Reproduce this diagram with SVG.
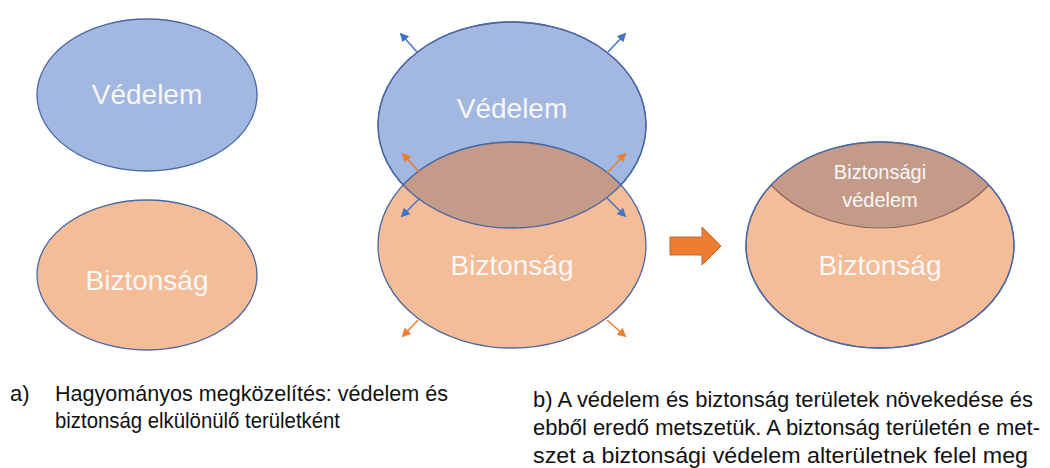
<svg xmlns="http://www.w3.org/2000/svg" width="1050" height="468" viewBox="0 0 1050 468">
<style>
.blue{fill:#A2B8E0;stroke:#4A67A3;stroke-width:1.3}
.orange{fill:#F5BD97;stroke:#4A67A3;stroke-width:1.3}
.lens{fill:#C49B88}
.lab{font-family:"Liberation Sans",Arial,sans-serif;fill:#F7F7F7;text-anchor:middle}
.big{font-size:28px}
.small{font-size:20px}
.cap{font-family:"Liberation Sans",Arial,sans-serif;font-size:22px;fill:#111111}
.ab{stroke:#4472C4;stroke-width:1.5;fill:none;marker-end:url(#mb)}
.ao{stroke:#ED7D31;stroke-width:1.5;fill:none;marker-end:url(#mo)}
</style>
<defs>
<marker id="mb" viewBox="0 0 10 10" refX="8" refY="5" markerWidth="6" markerHeight="6" orient="auto" markerUnits="strokeWidth"><path d="M0,0 L10,5 L0,10 z" fill="#4472C4"/></marker>
<marker id="mo" viewBox="0 0 10 10" refX="8" refY="5" markerWidth="6" markerHeight="6" orient="auto" markerUnits="strokeWidth"><path d="M0,0 L10,5 L0,10 z" fill="#ED7D31"/></marker>
</defs>
<rect width="1050" height="468" fill="#FFFFFF"/>

<g id="a-vedelem">
<ellipse class="blue" cx="147" cy="95" rx="110" ry="76"/>
<text class="lab big" x="147" y="104">Védelem</text>
</g>
<g id="a-biztonsag">
<ellipse class="orange" cx="147" cy="275" rx="110" ry="75"/>
<text class="lab big" x="147" y="290">Biztonság</text>
</g>

<g id="b-vedelem">
<ellipse class="blue" cx="512" cy="125" rx="134" ry="103"/>
</g>
<g id="b-biztonsag">
<ellipse class="orange" cx="512" cy="245" rx="134" ry="103"/>
</g>
<g id="b-metszet">
<path class="lens" d="M403.1,185 A134,103 0 0 1 620.9,185 A134,103 0 0 1 403.1,185 Z"/>
<ellipse cx="512" cy="125" rx="134" ry="103" fill="none" stroke="#4A67A3" stroke-width="1.3"/>
<path d="M403.1,185 A134,103 0 0 1 620.9,185" fill="none" stroke="#4A67A3" stroke-width="1.3"/>
<text class="lab big" x="512" y="118">Védelem</text>
<text class="lab big" x="512" y="275">Biztonság</text>
</g>

<g id="connectors">
<line class="ab" x1="417" y1="52" x2="401" y2="34"/>
<line class="ab" x1="608" y1="52" x2="625" y2="34"/>
<line class="ao" x1="420" y1="173" x2="403" y2="154"/>
<line class="ao" x1="607" y1="173" x2="625" y2="154"/>
<line class="ab" x1="420" y1="198" x2="402" y2="216"/>
<line class="ab" x1="607" y1="198" x2="625" y2="216"/>
<line class="ao" x1="418" y1="320" x2="403" y2="336"/>
<line class="ao" x1="607" y1="320" x2="625" y2="336"/>
</g>

<g id="nyil">
<path d="M670,237 L702,237 L702,227 L721,246 L702,265 L702,255 L670,255 Z" fill="#ED7D31" stroke="#C0692A" stroke-width="1"/>
</g>

<g id="c-biztonsag">
<ellipse class="orange" cx="880" cy="245" rx="134" ry="103"/>
<path class="lens" d="M771.1,185 A134,103 0 0 1 988.9,185 A134,103 0 0 1 771.1,185 Z"/>
<path d="M988.9,185 A134,103 0 0 1 771.1,185" fill="none" stroke="#8A6658" stroke-width="1.2"/>
<ellipse cx="880" cy="245" rx="134" ry="103" fill="none" stroke="#4A67A3" stroke-width="1.3"/>
<text class="lab small" x="880" y="179">Biztonsági</text>
<text class="lab small" x="880" y="207">védelem</text>
<text class="lab big" x="880" y="275">Biztonság</text>
</g>

<g id="feliratok">
<text class="cap" x="10" y="401">a)</text>
<text class="cap" x="55" y="401" textLength="393" lengthAdjust="spacingAndGlyphs">Hagyományos megközelítés: védelem és</text>
<text class="cap" x="55" y="428" textLength="285" lengthAdjust="spacingAndGlyphs">biztonság elkülönülő területként</text>
<text class="cap" x="533" y="407" textLength="500" lengthAdjust="spacingAndGlyphs">b) A védelem és biztonság területek növekedése és</text>
<text class="cap" x="533" y="435" textLength="507" lengthAdjust="spacingAndGlyphs">ebből eredő metszetük. A biztonság területén e met-</text>
<text class="cap" x="533" y="463" textLength="495" lengthAdjust="spacingAndGlyphs">szet a biztonsági védelem alterületnek felel meg</text>
</g>
</svg>
